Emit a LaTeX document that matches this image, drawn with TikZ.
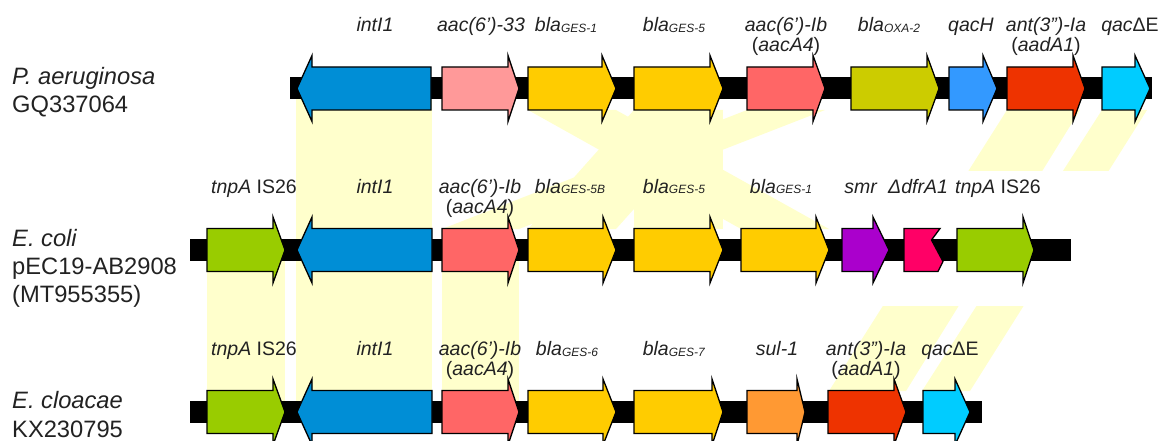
\documentclass[tikz,border=0pt]{standalone}
\usepackage{fontspec}
\setmainfont{Liberation Sans}
\definecolor{shadeY}{HTML}{FFFFCC}
\definecolor{cBlue}{HTML}{008ED6}
\definecolor{cPink}{HTML}{FF9999}
\definecolor{cYel}{HTML}{FFCC00}
\definecolor{cSalm}{HTML}{FF6666}
\definecolor{cOlive}{HTML}{CCCC00}
\definecolor{cQacH}{HTML}{3399FF}
\definecolor{cRed}{HTML}{EE3300}
\definecolor{cCyan}{HTML}{00CCFF}
\definecolor{cGreen}{HTML}{99CC00}
\definecolor{cPurp}{HTML}{AA00CC}
\definecolor{cMag}{HTML}{FF0066}
\definecolor{cOrange}{HTML}{FF9933}
\definecolor{txt}{HTML}{222222}
\newcommand\gR[5]{\draw[gene,fill=#5] (#1,#4-21.5) -- (#2,#4-21.5) -- (#2,#4-33) -- (#3,#4) -- (#2,#4+33) -- (#2,#4+21.5) -- (#1,#4+21.5) -- cycle;}
\newcommand\gL[5]{\draw[gene,fill=#5] (#1,#4) -- (#2,#4-33) -- (#2,#4-21.5) -- (#3,#4-21.5) -- (#3,#4+21.5) -- (#2,#4+21.5) -- (#2,#4+33) -- cycle;}
\newcommand\blasub[1]{\textit{bla}\raisebox{-1pt}{\fontsize{12}{12}\selectfont\textit{#1}}}
\begin{document}
\begin{tikzpicture}[x=1pt,y=-1pt,
  gene/.style={draw=black,line width=1.3pt,line join=miter},
  band/.style={fill=shadeY,draw=none},
  glab/.style={anchor=base,inner sep=0pt,text=txt,font=\fontsize{19.5}{20}\selectfont},
  slab/.style={anchor=base west,inner sep=0pt,text=txt,font=\fontsize{23.7}{24}\selectfont}]
\useasboundingbox (0,0) rectangle (1159,441);
% ---------- homology bands ----------
\fill[band] (296,88.5) rectangle (432,250);
\fill[band] (528,110) -- (616,110) -- (829,229) -- (741,229) -- cycle;
\fill[band] (747,110) -- (825,110) -- (519,229) -- (442,229) -- cycle;
\fill[band] (634,110) rectangle (723,229);
\fill[band] (634,110) -- (723,110) -- (616,229) -- (528,229) -- cycle;
\fill[band] (207,250) rectangle (285,412);
\fill[band] (296,250) rectangle (432,412);
\fill[band] (442,250) rectangle (519,412);
\begin{scope}
\clip (0,100) rectangle (1159,170);
\fill[band] (1007,110) -- (1080,110) -- (906,391) -- (829,391) -- cycle;
\fill[band] (1102,110) -- (1147,110) -- (970,391) -- (922,391) -- cycle;
\end{scope}
\begin{scope}
\clip (0,306) rectangle (1159,441);
\fill[band] (1007,110) -- (1080,110) -- (906,391) -- (829,391) -- cycle;
\fill[band] (1102,110) -- (1147,110) -- (970,391) -- (922,391) -- cycle;
\end{scope}
% ---------- backbones ----------
\fill[black] (290,77.5) rectangle (1152,99.5);
\fill[black] (190,239) rectangle (1071,261);
\fill[black] (190,401) rectangle (982,423);
% ---------- top row ----------
\gL{297}{312}{431}{88.5}{cBlue}
\gR{442}{508}{519}{88.5}{cPink}
\gR{528}{602}{616}{88.5}{cYel}
\gR{634}{710}{723}{88.5}{cYel}
\gR{747}{813}{825}{88.5}{cSalm}
\gR{851}{927}{939}{88.5}{cOlive}
\gR{949}{983}{997}{88.5}{cQacH}
\gR{1007}{1073}{1085}{88.5}{cRed}
\gR{1102}{1135}{1150}{88.5}{cCyan}
% ---------- middle row ----------
\gR{207}{273}{285}{250}{cGreen}
\gL{297}{312}{432}{250}{cBlue}
\gR{442}{508}{519}{250}{cSalm}
\gR{528}{603}{616}{250}{cYel}
\gR{634}{710}{723}{250}{cYel}
\gR{741}{816}{829}{250}{cYel}
\gR{842}{873}{889}{250}{cPurp}
\draw[gene,fill=cMag] (904,228.5) -- (940,228.5) -- (931.5,240) -- (943,261.5) -- (938,271.5) -- (904,271.5) -- cycle;
\gR{957}{1023}{1034}{250}{cGreen}
% ---------- bottom row ----------
\gR{207}{273}{285}{412}{cGreen}
\gL{297}{312}{432}{412}{cBlue}
\gR{442}{508}{519}{412}{cSalm}
\gR{528}{603}{616}{412}{cYel}
\gR{634}{712}{723}{412}{cYel}
\gR{747}{797}{805}{412}{cOrange}
\gR{828}{894}{906}{412}{cRed}
\gR{923}{955}{970}{412}{cCyan}
% ---------- species labels ----------
\node[slab] (sp1a) at (12,85) {\textit{P. aeruginosa}};
\node[slab] (sp1b) at (12,113) {GQ337064};
\node[slab] (sp2a) at (12,246) {\textit{E. coli}};
\node[slab] (sp2b) at (12,274) {pEC19-AB2908};
\node[slab] (sp2c) at (12,302) {(MT955355)};
\node[slab] (sp3a) at (12,408) {\textit{E. cloacae}};
\node[slab] (sp3b) at (12,437) {KX230795};
% ---------- gene labels: top ----------
\node[glab] (t1) at (375,31.5) {\textit{intI1}};
\node[glab] (t2) at (481,31.5) {\textit{aac(6')-33}};
\node[glab] (t3) at (566,31.5) {\blasub{GES-1}};
\node[glab] (t4) at (674,31.5) {\blasub{GES-5}};
\node[glab] (t5) at (786,31.5) {\textit{aac(6')-Ib}};
\node[glab] (t5b) at (786,51.5) {(\textit{aacA4})};
\node[glab] (t6) at (889,31.5) {\blasub{OXA-2}};
\node[glab] (t7) at (971,31.5) {\textit{qacH}};
\node[glab] (t8) at (1046,31.5) {\textit{ant(3”)-Ia}};
\node[glab] (t8b) at (1046,51.5) {(\textit{aadA1})};
\node[glab] (t9) at (1130,31.5) {\textit{qac}ΔE};
% ---------- gene labels: middle ----------
\node[glab] (m1) at (254,193) {\textit{tnpA} IS26};
\node[glab] (m2) at (375,193) {\textit{intI1}};
\node[glab] (m3) at (480,193) {\textit{aac(6')-Ib}};
\node[glab] (m3b) at (480,213) {(\textit{aacA4})};
\node[glab] (m4) at (570,193) {\blasub{GES-5B}};
\node[glab] (m5) at (674,193) {\blasub{GES-5}};
\node[glab] (m6) at (781,193) {\blasub{GES-1}};
\node[glab] (m7) at (861,193) {\textit{smr}};
\node[glab] (m8) at (918,193) {\textit{ΔdfrA1}};
\node[glab] (m9) at (998,193) {\textit{tnpA} IS26};
% ---------- gene labels: bottom ----------
\node[glab] (b1) at (254,355) {\textit{tnpA} IS26};
\node[glab] (b2) at (375,355) {\textit{intI1}};
\node[glab] (b3) at (480,355) {\textit{aac(6')-Ib}};
\node[glab] (b3b) at (480,375) {(\textit{aacA4})};
\node[glab] (b4) at (567,355) {\blasub{GES-6}};
\node[glab] (b5) at (674,355) {\blasub{GES-7}};
\node[glab] (b6) at (777,355) {\textit{sul-1}};
\node[glab] (b7) at (866,355) {\textit{ant(3”)-Ia}};
\node[glab] (b7b) at (866,375) {(\textit{aadA1})};
\node[glab] (b8) at (950,355) {\textit{qac}ΔE};
\end{tikzpicture}
\end{document}
